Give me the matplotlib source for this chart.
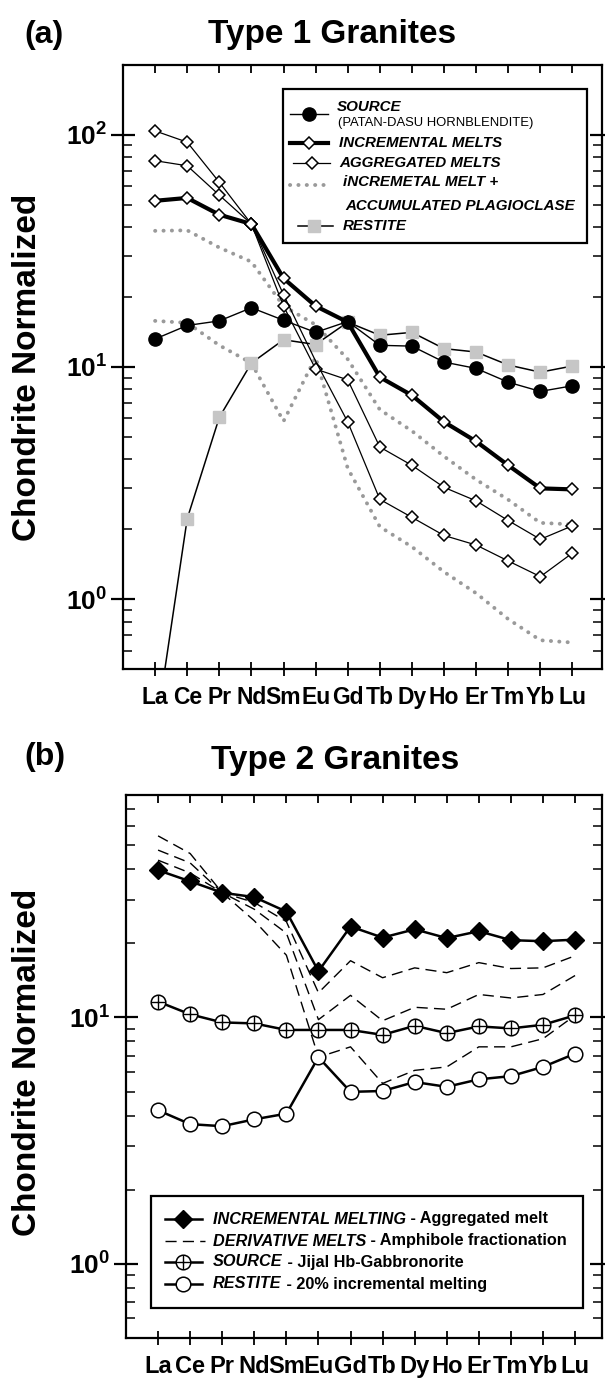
"""
Chondrite-normalized REE patterns for Type 1 and Type 2 granites
(melting models: source, incremental / aggregated melts, restite).
"""

import matplotlib
matplotlib.use("Agg")
import numpy as np
import matplotlib.pyplot as plt
from matplotlib.patches import Rectangle
from matplotlib.lines import Line2D


# REE on the x axis
REE = ["La", "Ce", "Pr", "Nd", "Sm", "Eu", "Gd", "Tb", "Dy", "Ho", "Er", "Tm", "Yb", "Lu"]

# Panel (a) - Type 1 granites
A_SOURCE = [13.2, 15.1, 15.8, 18.0, 15.9, 14.1, 15.7, 12.4, 12.3, 10.5, 9.86, 8.6, 7.85, 8.3]
A_INCREMENTAL = [52.0, 53.5, 45.3, 41.3, 24.1, 18.3, 15.6, 9.04, 7.55, 5.80, 4.78, 3.77, 3.0, 2.97]
A_AGGREGATED_1 = [104.0, 93.0, 62.5, 41.3, 18.3, 9.8, 8.8, 4.52, 3.77, 3.03, 2.65, 2.18, 1.81, 2.07]
A_AGGREGATED_2 = [77.4, 73.6, 55.0, 41.3, 20.5, 10.6, 5.8, 2.69, 2.25, 1.88, 1.71, 1.46, 1.25, 1.58]
A_PLAG_UPPER = [38.6, 38.8, 32.7, 28.4, 18.3, 15.2, 10.8, 6.55, 5.3, 4.12, 3.27, 2.68, 2.13, 2.1]
A_PLAG_LOWER = [15.8, 15.5, 12.4, 10.4, 5.84, 11.0, 3.66, 2.05, 1.68, 1.31, 1.06, 0.82, 0.665, 0.65]
A_RESTITE = [0.26, 2.22, 6.07, 10.4, 13.1, 12.5, 15.6, 13.7, 14.1, 12.0, 11.6, 10.2, 9.5, 10.1]

# Panel (b) - Type 2 granites
B_INCREMENTAL = [39.6, 35.7, 32.1, 30.8, 26.9, 15.4, 23.4, 21.1, 22.8, 21.0, 22.4, 20.6, 20.4, 20.7]
B_DERIVATIVE_1 = [43.5, 38.6, 32.1, 29.3, 24.5, 12.6, 17.0, 14.5, 15.9, 15.2, 16.7, 15.8, 15.9, 17.8]
B_DERIVATIVE_2 = [47.8, 42.4, 32.1, 27.5, 22.0, 9.8, 12.3, 9.7, 11.0, 10.8, 12.4, 12.0, 12.4, 14.8]
B_DERIVATIVE_3 = [54.6, 46.3, 32.1, 24.7, 17.9, 6.9, 7.6, 5.4, 6.1, 6.3, 7.6, 7.6, 8.2, 10.2]
B_SOURCE = [11.6, 10.3, 9.55, 9.46, 8.9, 8.9, 8.9, 8.5, 9.25, 8.64, 9.2, 9.03, 9.34, 10.2]
B_RESTITE = [4.2, 3.69, 3.62, 3.86, 4.07, 6.9, 4.99, 5.03, 5.47, 5.23, 5.61, 5.78, 6.3, 7.13]

FIG_W, FIG_H = 605, 1380
FONT = "Liberation Sans"
GREY_SQ = "#c6c6c6"
GREY_DOT = "#9a9a9a"


# Convert pixel position on the figure into figure fraction
def px(x, y):
    return x / FIG_W, 1 - y / FIG_H


# Common styling of a log REE axis
def style_axis(ax, ymin, ymax, xmax, label_size):
    ax.set_yscale("log")
    ax.set_ylim(ymin, ymax)
    ax.set_xlim(0, xmax)
    ax.set_xticks(np.arange(1, len(REE) + 1))
    ax.set_xticklabels(REE, fontsize=label_size, fontweight="bold", fontfamily=FONT)
    for side in ax.spines.values():
        side.set_linewidth(1.6)
    ax.tick_params(axis="x", which="major", direction="inout", length=10, width=1.3,
                   top=False, pad=7)
    ax.tick_params(axis="y", which="major", direction="inout", length=17, width=1.6,
                   right=True, labelsize=19, pad=3)
    ax.tick_params(axis="y", which="minor", direction="in", length=6.5, width=1.1, right=True)
    ax.yaxis.set_major_formatter(plt.FuncFormatter(lambda v, p: r"$\mathrm{10^{%d}}$" % round(np.log10(v))))
    ax.yaxis.set_minor_formatter(plt.NullFormatter())
    # short inward ticks on the top spine
    top = ax.secondary_xaxis("top")
    top.set_xticks(np.arange(1, len(REE) + 1))
    top.set_xticklabels([])
    top.tick_params(direction="in", length=6, width=1.3)
    top.spines["top"].set_visible(False)


# Panel (a): Type 1 granites
def plot_panel_a(fig):
    ax = fig.add_axes([123 / FIG_W, 1 - 669 / FIG_H, (602 - 123) / FIG_W, (669 - 65) / FIG_H])
    x = np.arange(1, len(REE) + 1)
    dotted = dict(color=GREY_DOT, lw=2.8, linestyle=(0, (0.05, 2.1)), dash_capstyle="round", zorder=1)
    ax.plot(x, A_PLAG_UPPER, **dotted)
    ax.plot(x, A_PLAG_LOWER, **dotted)
    ax.plot(x, A_RESTITE, color="black", lw=1.1, marker="s", ms=8, mfc=GREY_SQ, mec=GREY_SQ, zorder=2)
    diamond = dict(marker="D", ms=6.5, mfc="white", mec="black", mew=1.1)
    ax.plot(x, A_AGGREGATED_1, color="black", lw=0.9, zorder=3, **diamond)
    ax.plot(x, A_AGGREGATED_2, color="black", lw=0.9, zorder=3,
            markevery=[i for i in range(len(REE)) if i != 5], **diamond)
    ax.plot(x, A_INCREMENTAL, color="black", lw=3.0, zorder=4, **diamond)
    ax.plot(x, A_SOURCE, color="black", lw=1.0, marker="o", ms=9.5, mfc="black", mec="black", zorder=5)
    style_axis(ax, 0.5, 200, 14.92, 16.5)

    # legend box drawn by hand
    fig.patches.append(Rectangle(px(283, 243), (587 - 283) / FIG_W, (243 - 89) / FIG_H,
                                 transform=fig.transFigure, fill=True, fc="white", ec="black",
                                 lw=1.6, zorder=10))
    bi = dict(fontsize=10.9, fontweight="bold", fontstyle="italic", fontfamily=FONT,
              va="center", ha="left", zorder=11)
    tf = fig.transFigure
    fig.add_artist(Line2D(*zip(px(290, 114), px(328, 114)), transform=tf, color="black", lw=1.0,
                          zorder=11))
    fig.add_artist(Line2D(*zip(px(309, 114)), transform=tf, marker="o", ms=9.5, color="black",
                          zorder=12))
    fig.text(*px(337, 107), "SOURCE", **bi)
    fig.text(*px(338, 123), "(PATAN-DASU HORNBLENDITE)", fontsize=9.4, fontfamily=FONT,
             va="center", ha="left", zorder=11)
    fig.add_artist(Line2D(*zip(px(290, 143), px(328, 143)), transform=tf, color="black", lw=3.0,
                          zorder=11))
    fig.add_artist(Line2D(*zip(px(309, 143)), transform=tf, zorder=12, **diamond))
    fig.text(*px(339, 143), "INCREMENTAL MELTS", **bi)
    fig.add_artist(Line2D(*zip(px(293, 163), px(330, 163)), transform=tf, color="black", lw=0.9,
                          zorder=11))
    fig.add_artist(Line2D(*zip(px(312, 163)), transform=tf, zorder=12, **diamond))
    fig.text(*px(339, 163), "AGGREGATED MELTS", **bi)
    dotted_leg = dict(dotted)
    dotted_leg["zorder"] = 11
    fig.add_artist(Line2D(*zip(px(290, 185), px(331, 185)), transform=tf, **dotted_leg))
    fig.text(*px(343, 182), "iNCREMETAL MELT +", **bi)
    fig.text(*px(345, 206), "ACCUMULATED PLAGIOCLASE", **bi)
    fig.add_artist(Line2D(*zip(px(298, 226), px(333, 226)), transform=tf, color="black", lw=1.1,
                          zorder=11))
    fig.add_artist(Line2D(*zip(px(314, 226)), transform=tf, marker="s", ms=8, color=GREY_SQ,
                          zorder=12))
    fig.text(*px(343, 226), "RESTITE", **bi)

    fig.text(*px(24, 35), "(a)", fontsize=23, fontweight="bold", fontfamily=FONT, va="center")
    fig.text(*px(332, 35), "Type 1 Granites", fontsize=24, fontweight="bold", fontfamily=FONT,
             va="center", ha="center")
    fig.text(*px(28, 367), "Chondrite Normalized", fontsize=24, fontweight="bold", fontfamily=FONT,
             rotation=90, va="center", ha="center")


# Panel (b): Type 2 granites
def plot_panel_b(fig):
    ax = fig.add_axes([126 / FIG_W, 1 - 1338 / FIG_H, (602 - 126) / FIG_W, (1338 - 795) / FIG_H])
    x = np.arange(1, len(REE) + 1)
    dashed = dict(color="black", lw=1.0, linestyle=(0, (8, 4.5)))
    ax.plot(x, B_DERIVATIVE_1, zorder=1, **dashed)
    ax.plot(x, B_DERIVATIVE_2, zorder=1, **dashed)
    ax.plot(x, B_DERIVATIVE_3, zorder=1, **dashed)
    ax.plot(x, B_RESTITE, color="black", lw=1.8, marker="o", ms=10.5, mfc="white", mec="black",
            mew=1.1, zorder=3)
    ax.plot(x, B_SOURCE, color="black", lw=1.8, marker="o", ms=10.5, mfc="white", mec="black",
            mew=1.1, zorder=3)
    ax.plot(x, B_SOURCE, linestyle="none", marker="+", ms=10.5, mec="black", mew=1.0, zorder=4)
    ax.plot(x, B_INCREMENTAL, color="black", lw=1.8, marker="D", ms=9, mfc="black", mec="black",
            zorder=5)
    style_axis(ax, 0.5, 80, 14.84, 17)

    fig.patches.append(Rectangle(px(151, 1308), (583 - 151) / FIG_W, (1308 - 1196) / FIG_H,
                                 transform=fig.transFigure, fill=True, fc="white", ec="black",
                                 lw=1.6, zorder=10))
    tf = fig.transFigure
    rows = [1219, 1241, 1262, 1284]
    names = ["INCREMENTAL MELTING", "DERIVATIVE MELTS", "SOURCE", "RESTITE"]
    notes = [" - Aggregated melt", " - Amphibole fractionation", " - Jijal Hb-Gabbronorite",
             " - 20% incremental melting"]
    for y, name, note in zip(rows, names, notes):
        if name == "DERIVATIVE MELTS":
            fig.add_artist(Line2D(*zip(px(165, y), px(205, y)), transform=tf, zorder=11, **dashed))
        else:
            fig.add_artist(Line2D(*zip(px(165, y), px(202, y)), transform=tf, color="black", lw=1.8,
                                  zorder=11))
        if name == "INCREMENTAL MELTING":
            fig.add_artist(Line2D(*zip(px(183, y)), transform=tf, marker="D", ms=9, color="black",
                                  zorder=12))
        elif name in ("SOURCE", "RESTITE"):
            fig.add_artist(Line2D(*zip(px(183, y)), transform=tf, marker="o", ms=10.5, mfc="white",
                                  mec="black", mew=1.1, zorder=12))
            if name == "SOURCE":
                fig.add_artist(Line2D(*zip(px(183, y)), transform=tf, marker="+", ms=10.5,
                                      mec="black", mew=1.0, zorder=13))
        t = fig.text(*px(213, y), name, fontsize=11.7, fontstyle="italic", fontweight="bold",
                     fontfamily=FONT, va="center", ha="left", zorder=11)
        fig.add_artist(plt.Annotation(note, xy=(1, 0.5), xycoords=t, va="center", ha="left",
                                      fontsize=11.7, fontweight="bold", fontfamily=FONT, zorder=11))

    fig.text(*px(24, 757), "(b)", fontsize=23, fontweight="bold", fontfamily=FONT, va="center")
    fig.text(*px(335, 760), "Type 2 Granites", fontsize=24, fontweight="bold", fontfamily=FONT,
             va="center", ha="center")
    fig.text(*px(28, 1062), "Chondrite Normalized", fontsize=24, fontweight="bold", fontfamily=FONT,
             rotation=90, va="center", ha="center")


def main():
    plt.rcParams["font.family"] = FONT
    plt.rcParams["mathtext.fontset"] = "custom"
    plt.rcParams["mathtext.rm"] = FONT + ":bold"
    plt.rcParams["mathtext.bf"] = FONT + ":bold"
    fig = plt.figure(figsize=(FIG_W / 100, FIG_H / 100), dpi=100)
    plot_panel_a(fig)
    plot_panel_b(fig)
    fig.savefig("out.png", dpi=100)
    plt.close(fig)


if __name__ == "__main__":
    main()
